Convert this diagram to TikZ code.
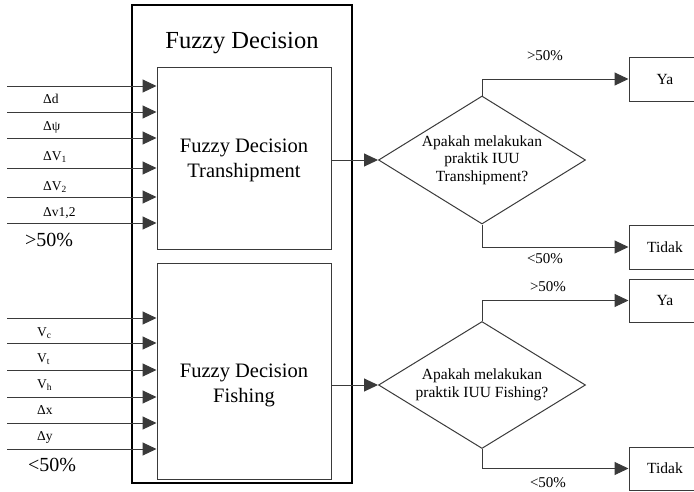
\documentclass[tikz,border=0pt]{standalone}
\usepackage{fontspec}
\setmainfont{Liberation Serif}
\usetikzlibrary{arrows.meta,positioning,shapes.geometric}

\definecolor{FDLine}{HTML}{3A3A3A}
\tikzset{
  fdframe/.style={
    draw=black,
    line width=2pt,
    inner sep=0pt
  },
  fdbox/.style={
    draw=FDLine,
    line width=1pt,
    inner sep=0pt,
    minimum width=174pt
  },
  fdarrow/.style={
    -{Triangle[length=14pt,width=13pt]},
    line width=1pt,
    color=FDLine
  },
  fdquery/.style={
    diamond,
    draw=FDLine,
    line width=1pt,
    aspect=1.62,
    inner sep=0pt,
    minimum width=207pt,
    minimum height=128pt,
    align=center,
    font=\fontsize{15.5}{17.5}\selectfont
  },
  fdout/.style={
    draw=FDLine,
    line width=1pt,
    minimum width=72pt,
    minimum height=44pt,
    font=\fontsize{15.5}{17}\selectfont
  },
  fdin/.style={
    anchor=west,
    inner sep=0pt,
    font=\fontsize{13.5}{15}\selectfont
  },
  fdtag/.style={
    inner sep=0pt,
    font=\fontsize{15}{16}\selectfont
  }
}

\begin{document}
\begin{tikzpicture}[x=1pt,y=-1pt]
  \useasboundingbox (0,0) rectangle (694,491);

  % outer frame and heading
  \node[fdframe,minimum width=220pt,minimum height=478pt] (frame) at (242,244) {};
  \node[anchor=base,font=\fontsize{24.5}{28}\selectfont] (title) at (242,48)
    {Fuzzy Decision};

  % the two decision blocks
  \node[fdbox,minimum height=182pt] (trans) at (244,158) {};
  \node[fdbox,minimum height=216pt] (fish) at (244,371) {};
  \node[align=center,font=\fontsize{20.5}{25}\selectfont] (transtxt) at (244,160)
    {Fuzzy Decision\\Transhipment};
  \node[align=center,font=\fontsize{20.5}{25}\selectfont] (fishtxt) at (244,385)
    {Fuzzy Decision\\Fishing};

  % inputs of the transhipment block
  \foreach \y [count=\i] in {86,112,138,168,197,223} {
    \coordinate (tin\i) at (7,\y);
    \draw[fdarrow] (tin\i) -- (tin\i -| trans.west);
  }
  \node[fdin] (ld) at (43,99) {Δd};
  \node[fdin] (lpsi) at (43,127) {Δψ};
  \node[fdin] (lv1) at (43,157) {ΔV\textsubscript{1}};
  \node[fdin] (lv2) at (43,187) {ΔV\textsubscript{2}};
  \node[fdin] (lv12) at (43,213) {Δv1,2};
  \node[anchor=west,inner sep=0pt,font=\fontsize{20}{24}\selectfont] (tover) at (25,240)
    {>50\%};

  % inputs of the fishing block
  \foreach \y [count=\i] in {318,343,370,397,423,449} {
    \coordinate (fin\i) at (7,\y);
    \draw[fdarrow] (fin\i) -- (fin\i -| fish.west);
  }
  \node[fdin] (lvc) at (37,333) {V\textsubscript{c}};
  \node[fdin] (lvt) at (37,359) {V\textsubscript{t}};
  \node[fdin] (lvh) at (37,385) {V\textsubscript{h}};
  \node[fdin] (ldx) at (37,410) {Δx};
  \node[fdin] (ldy) at (37,437) {Δy};
  \node[anchor=west,inner sep=0pt,font=\fontsize{20}{24}\selectfont] (funder) at (28,465)
    {<50\%};

  % questions
  \node[fdquery] (qtrans) at (482,160) {Apakah melakukan\\praktik IUU\\Transhipment?};
  \node[fdquery,minimum height=127pt] (qfish) at (482,385)
    {Apakah melakukan\\praktik IUU Fishing?};

  % outcomes
  \node[fdout] (yes1) at (665,79) {Ya};
  \node[fdout] (no1) at (665,247) {Tidak};
  \node[fdout,minimum height=43pt] (yes2) at (665,300.5) {Ya};
  \node[fdout,minimum height=43pt] (no2) at (665,468.5) {Tidak};

  \draw[fdarrow] (trans.east |- qtrans.west) -- (qtrans.west);
  \draw[fdarrow] (qtrans.north) |- (yes1.west);
  \draw[fdarrow] (qtrans.south) |- (no1.west);
  \draw[fdarrow] (fish.east |- qfish.west) -- (qfish.west);
  \draw[fdarrow] (qfish.north) |- (yes2.west);
  \draw[fdarrow] (qfish.south) |- (no2.west);

  \node[fdtag] (t1) at (545,56) {>50\%};
  \node[fdtag] (t2) at (545,259) {<50\%};
  \node[fdtag] (t3) at (548,287) {>50\%};
  \node[fdtag] (t4) at (548,483) {<50\%};
\end{tikzpicture}
\end{document}
